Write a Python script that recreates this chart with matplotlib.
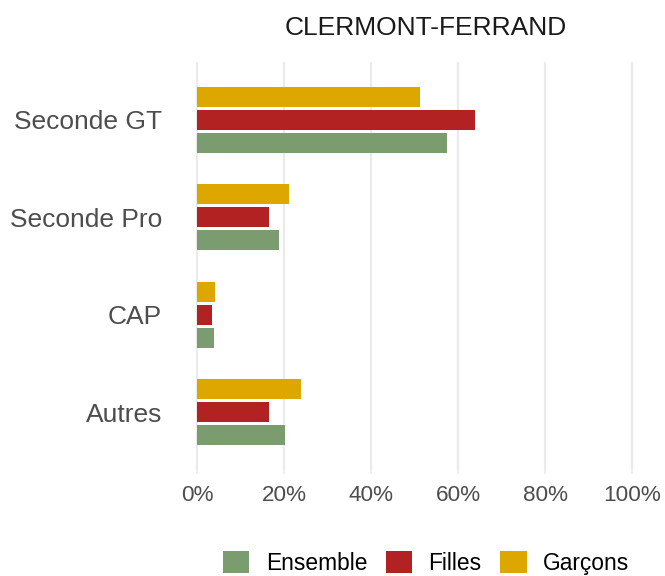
import matplotlib.pyplot as plt
import numpy as np

plt.rcParams['font.family'] = ['Liberation Sans', 'DejaVu Sans']

# parts des élèves par orientation (en %)
categories = ["Seconde GT", "Seconde Pro", "CAP", "Autres"]
ensemble = [57.4, 18.8, 3.8, 20.2]
filles = [63.8, 16.5, 3.4, 16.5]
garcons = [51.2, 21.1, 4.1, 23.9]

col_ens = "#7B9C6F"
col_fil = "#B22222"
col_gar = "#DEA700"

W, H = 665, 576
fig = plt.figure(figsize=(W / 100, H / 100), dpi=100)

# zone du graphique en pixels
px_per_unit = 4.35
x0 = 197.3 - 2 * px_per_unit
ax = fig.add_axes([x0 / W, (H - 470) / H, 104 * px_per_unit / W, 408 / H])

y = np.arange(len(categories))[::-1]
h = 0.205
step = 0.235
ax.barh(y - step, ensemble, height=h, color=col_ens, label="Ensemble", zorder=3)
ax.barh(y, filles, height=h, color=col_fil, label="Filles", zorder=3)
ax.barh(y + step, garcons, height=h, color=col_gar, label="Garçons", zorder=3)

ax.set_xlim(-2, 102)
ax.set_ylim(-0.59, 3.59)
ax.set_xticks(range(0, 101, 20))
ax.set_xticklabels([f"{v}%" for v in range(0, 101, 20)])
ax.set_yticks(y)
ax.set_yticklabels(categories)

ax.grid(axis="x", color="#EBEBEB", linewidth=1.6, zorder=0)
ax.grid(axis="y", visible=False)
for s in ax.spines.values():
    s.set_visible(False)

ax.tick_params(axis="x", length=3, width=1.2, color="#EBEBEB", pad=8,
               labelsize=16.2, labelcolor="#4D4D4D")
ax.tick_params(axis="y", length=0, pad=19, labelsize=19, labelcolor="#4D4D4D")

fig.text(426 / W, 1 - 28 / H, "CLERMONT-FERRAND", ha="center", va="center",
         fontsize=19, color="#1A1A1A")

fig.legend(loc="center", bbox_to_anchor=(426 / W, 1 - 563 / H), ncol=3,
           frameon=False, fontsize=16.4, handlelength=1.17, handleheight=1.13,
           handletextpad=0.72, columnspacing=0.8, borderpad=0, borderaxespad=0)

fig.savefig("out.png", dpi=100)
